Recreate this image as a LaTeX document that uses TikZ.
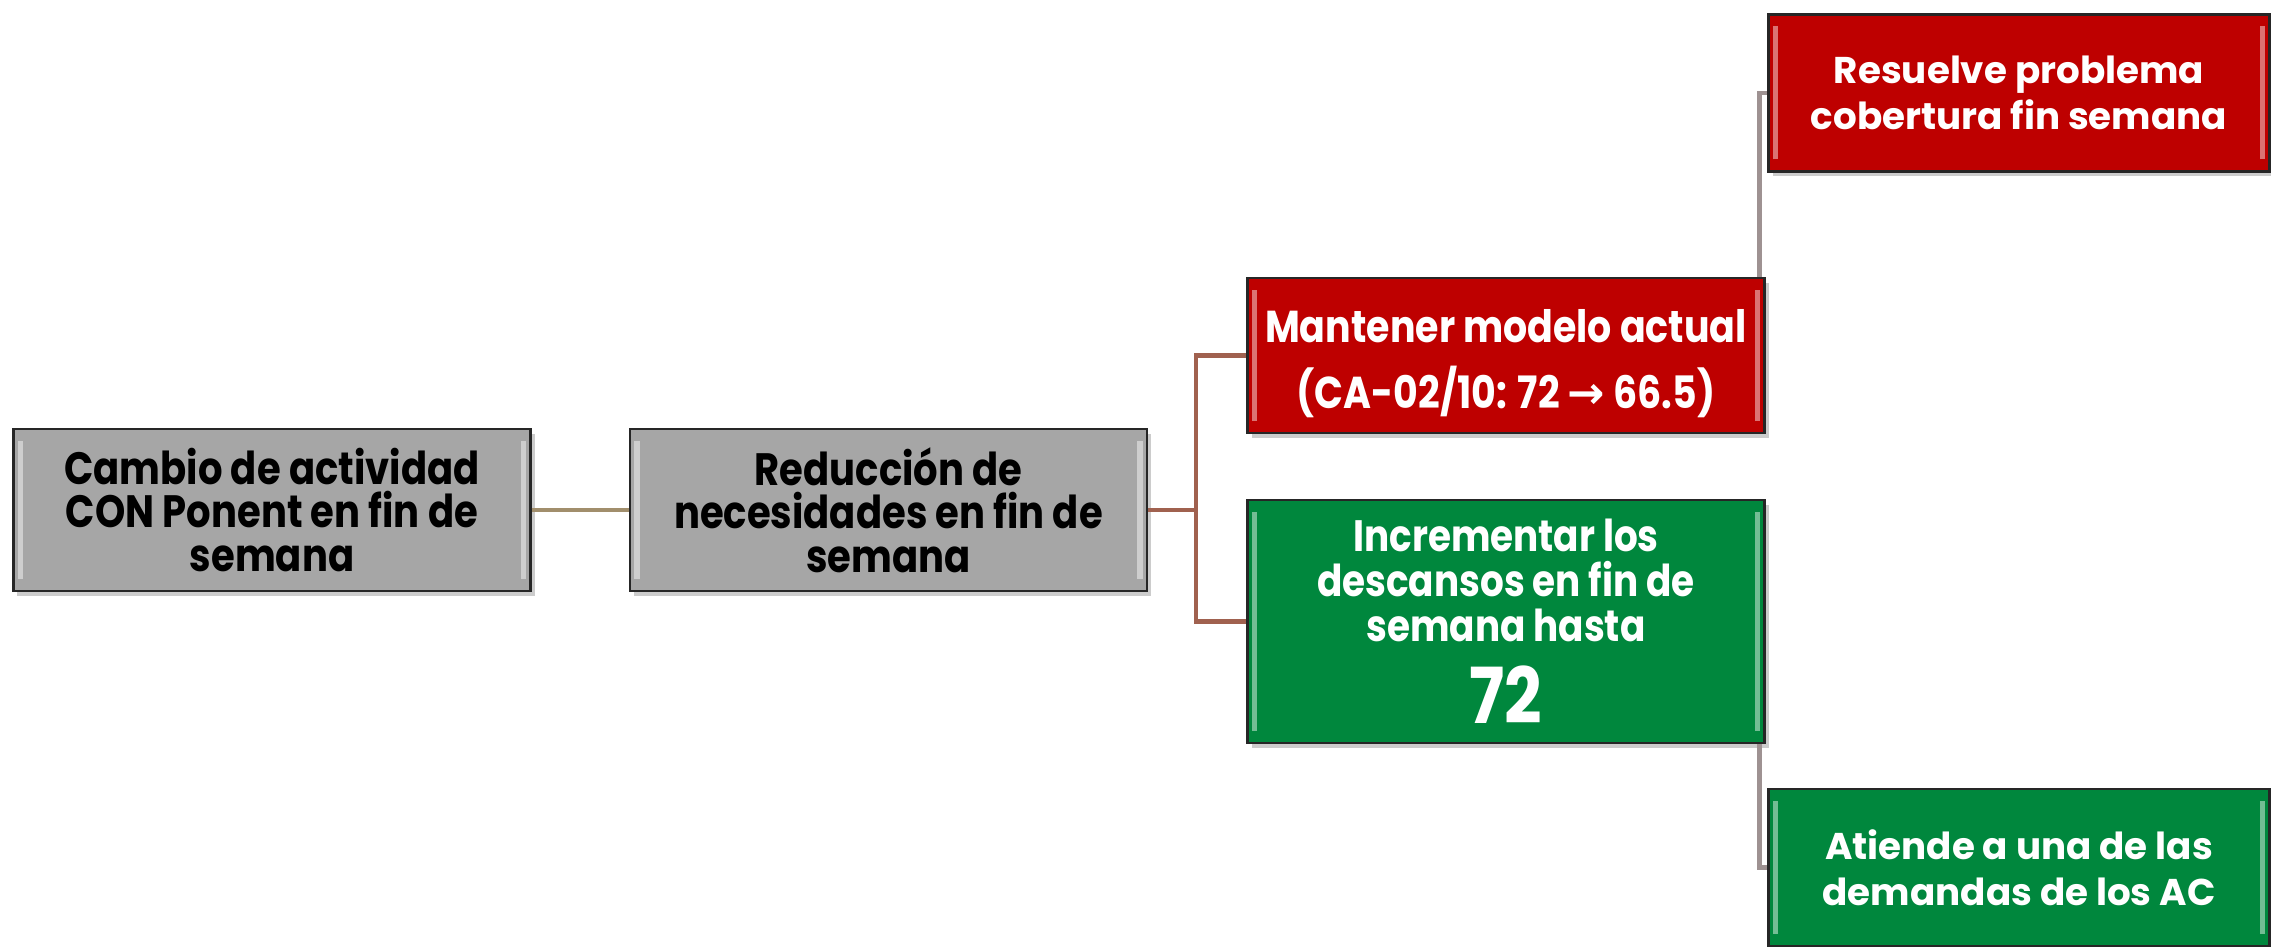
\documentclass[tikz,border=0pt]{standalone}
\usepackage{fontspec}
\setmainfont{Poppins}
\newfontfamily\narrowfont[FakeStretch=0.85]{Poppins}
\newfontfamily\symfont{DejaVu Sans}
\usetikzlibrary{positioning,calc,shadows}
\definecolor{boxgray}{HTML}{A6A6A6}
\definecolor{boxred}{HTML}{BE0000}
\definecolor{boxgreen}{HTML}{00873D}
\definecolor{linetan}{HTML}{A18E6C}
\definecolor{linebrown}{HTML}{A0614F}
\definecolor{linegray}{HTML}{9E9292}

\begin{document}
\begin{tikzpicture}[
    box/.style={rectangle, draw=black!85, line width=0.6pt, minimum width=5.17cm, align=center, inner sep=2pt,
        drop shadow={shadow xshift=0.04cm, shadow yshift=-0.05cm, opacity=0.4},
        path picture={\draw[white, opacity=0.45, line width=1.6pt]
            ($(path picture bounding box.south west)+(0.07,0.12)$) -- ($(path picture bounding box.north west)+(0.07,-0.12)$)
            ($(path picture bounding box.south east)+(-0.07,0.12)$) -- ($(path picture bounding box.north east)+(-0.07,-0.12)$);}},
    graybox/.style={box, fill=boxgray, minimum height=1.62cm, text=black, font={\narrowfont\bfseries\fontsize{12.9pt}{12.4pt}\selectfont}},
    redbox/.style={box, fill=boxred, text=white, font={\narrowfont\bfseries\fontsize{12.7pt}{19pt}\selectfont}},
    greenbox/.style={box, fill=boxgreen, text=white, font={\narrowfont\bfseries\fontsize{12.5pt}{12.7pt}\selectfont}},
    leafbox/.style={minimum width=5.01cm, minimum height=1.57cm, font={\bfseries\fontsize{10.6pt}{13pt}\selectfont}},
    link/.style={line width=1.2pt}
]
    \useasboundingbox (0,0) rectangle (22.71,9.46);

    \node[graybox] (cambio) at (2.72,4.36) {Cambio de actividad\\CON Ponent en fin de\\semana};
    \node[graybox] (reduccion) at (8.885,4.36) {Reducción de\\necesidades en fin de\\semana};
    \node[redbox, minimum height=1.55cm] (mantener) at (15.06,5.905)
        {\rule{0pt}{14pt}Mantener modelo actual\\(CA-02/10: 72 {\symfont\bfseries →} 66.5)};
    \node[greenbox, minimum height=2.43cm] (incrementar) at (15.06,3.245)
        {Incrementar los\\descansos en fin de\\semana hasta\\[6pt]{\fontsize{22pt}{24pt}\selectfont 72}};
    \node[redbox, leafbox] (resuelve) at (20.19,8.53) {Resuelve problema\\cobertura fin semana};
    \node[greenbox, leafbox] (atiende) at (20.19,0.785) {Atiende a una de las\\demandas de los AC};

    \coordinate (split) at ($(reduccion.east)+(0.48,0)$);
    \coordinate (up) at ($(mantener.north east)+(-0.06,0)$);
    \coordinate (down) at ($(incrementar.south east)+(-0.06,0)$);

    \draw[link, linetan] (cambio) -- (reduccion);
    \draw[link, linebrown] (reduccion) -- (split) |- (mantener);
    \draw[link, linebrown] (split) |- (incrementar);
    \draw[link, linegray] (up) |- (resuelve);
    \draw[link, linegray] (down) |- (atiende);
\end{tikzpicture}
\end{document}
